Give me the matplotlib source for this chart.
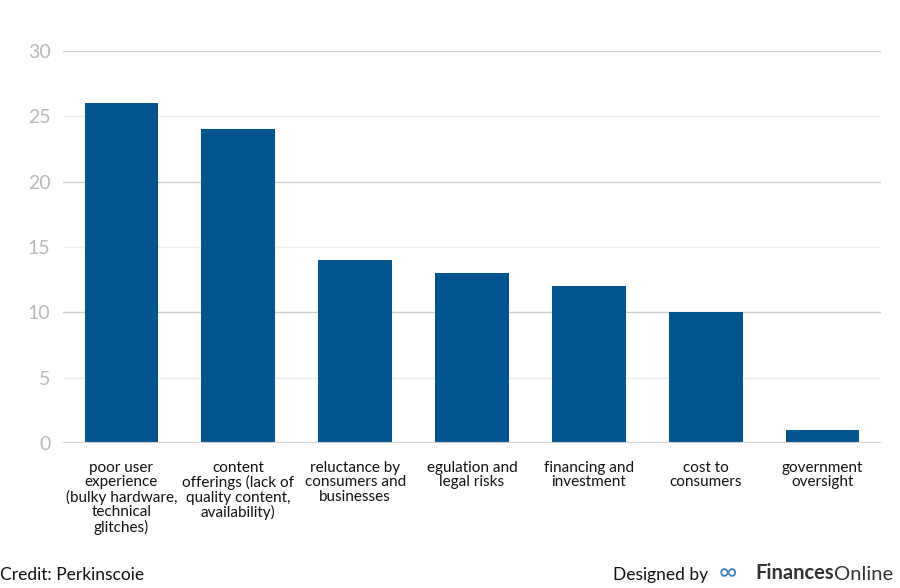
import matplotlib.pyplot as plt

categories = [
    "poor user\nexperience\n(bulky hardware,\ntechnical\nglitches)",
    "content\nofferings (lack of\nquality content,\navailability)",
    "reluctance by\nconsumers and\nbusinesses",
    "egulation and\nlegal risks",
    "financing and\ninvestment",
    "cost to\nconsumers",
    "government\noversight",
]
values = [26, 24, 14, 13, 12, 10, 1]
major_ticks = [0, 5, 10, 15, 20, 25, 30]

plt.rcParams["font.family"] = ["Lato", "DejaVu Sans"]

fig = plt.figure(figsize=(9, 5.88), dpi=100)
ax = fig.add_axes([0.07, 0.2466, 0.909, 0.6667])

x = range(len(categories))
ax.bar(x, values, width=0.63, color="#02568f", zorder=3)

ax.set_xlim(-0.5, len(categories) - 0.5)
ax.set_ylim(0, 30)
ax.set_yticks(major_ticks)
ax.set_yticklabels([str(t) for t in major_ticks], color="#b8b8b8", fontsize=14)
for t in major_ticks:
    c = "#cfcfcf" if t % 10 == 0 else "#efefef"
    ax.axhline(t, color=c, lw=1, zorder=1)
ax.axhline(0, color="#d0d0d0", lw=1.5, zorder=4)

ax.set_xticks(list(x))
ax.set_xticklabels(categories, fontsize=11, color="#111111", linespacing=1.03, va="top")
ax.tick_params(axis="both", length=0)
ax.tick_params(axis="x", pad=13)
ax.tick_params(axis="y", pad=9)
for s in ax.spines.values():
    s.set_visible(False)

fig.text(0.0, 0.008, "Credit: Perkinscoie", fontsize=12.5, color="#111111", ha="left", va="bottom")

# footer: "Designed by" + logo text, laid out left to right
fig.canvas.draw()
r = fig.canvas.get_renderer()
fig.text(0.681, 0.008, "Designed by", fontsize=12.5, color="#111111", ha="left", va="bottom")
fig.text(0.799, 0.006, "\u221e", fontsize=18, color="#3b7fc4", ha="left", va="bottom")
t3 = fig.text(0.839, 0.008, "Finances", fontsize=14.5, color="#333333", ha="left", va="bottom", fontweight="bold")
bb = t3.get_window_extent(renderer=r)
fig.text(bb.x1 / fig.bbox.width, 0.008, "Online", fontsize=14.5, color="#333333", ha="left", va="bottom")

fig.savefig("out.png", dpi=100)
